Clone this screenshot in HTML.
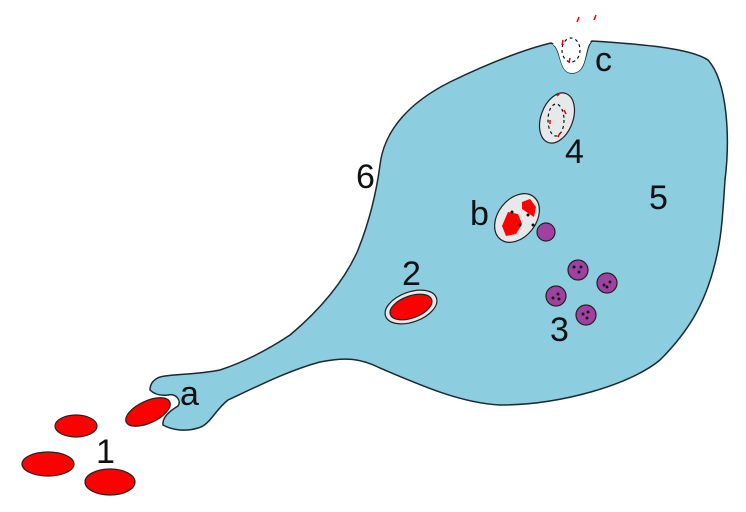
<!DOCTYPE html>
<html><head><style>body{margin:0;background:#fff}svg{display:block}text{font-family:"Liberation Sans",sans-serif;font-size:34px;fill:#111}</style></head><body>
<svg width="746" height="512" viewBox="0 0 746 512">
<path d="M380,165 C384,130 410,102 450,82 C495,60 530,48 551,43 C562,47 558,73 572,73 C588,73 584,48 592,41 C640,44 690,48 708,60 C728,82 730,140 725,180 C723,210 722,230 718,250 C708,300 690,330 660,360 C630,385 560,405 500,405 C460,403 420,385 380,368 C360,358 345,357 320,362 C290,370 260,385 228,400 C215,410 210,425 198,428 C185,432 172,430 163,425 C162,418 168,412 178,406 C182,400 175,393 168,395 C160,396 154,394 150,390 C150,382 156,377 165,376 C180,374 200,374 220,370 C250,360 275,345 290,335 C320,310 345,280 358,250 C368,225 376,195 380,165 Z" fill="#8ccde0" stroke="#1a2a30" stroke-width="1.5"/>
<g stroke="#222" stroke-width="1.2">
<ellipse cx="76" cy="426" rx="21" ry="11" fill="#f00"/>
<ellipse cx="48" cy="464" rx="26" ry="12" fill="#f00"/>
<ellipse cx="110" cy="482" rx="25" ry="13" fill="#f00"/>
<ellipse cx="148" cy="412" rx="24" ry="11" fill="#f00" transform="rotate(-25 148 412)"/>
<ellipse cx="411" cy="307" rx="27" ry="15" fill="#e6e8ea" transform="rotate(-20 411 307)"/>
<ellipse cx="411" cy="307" rx="22" ry="11" fill="#f00" transform="rotate(-20 411 307)"/>
<ellipse cx="557" cy="118" rx="16" ry="26" fill="#e6e8ea" transform="rotate(20 557 118)"/>
<circle cx="546" cy="232" r="9" fill="#a040a0"/>
<ellipse cx="517" cy="218" rx="19" ry="27" fill="#e6e8ea" transform="rotate(38 517 218)"/>
<circle cx="578" cy="270" r="10" fill="#a040a0"/>
<circle cx="607" cy="283" r="10" fill="#a040a0"/>
<circle cx="556" cy="296" r="10" fill="#a040a0"/>
<circle cx="586" cy="315" r="10" fill="#a040a0"/>
</g>
<path d="M552,44 C562,48 558,73 572,73 C588,73 584,48 591,42" fill="#fff"/>
<g fill="#f00"><path d="M502,226 l6,-14 l10,2 l4,10 l-6,10 l-10,2z"/><path d="M522,202 l8,-3 l6,8 l-2,10 l-6,-4 l-6,-4z"/></g>
<g fill="#111"><circle cx="574" cy="267" r="1.5"/><circle cx="579" cy="272" r="1.5"/><circle cx="581" cy="267" r="1.5"/><circle cx="604" cy="285" r="1.5"/><circle cx="610" cy="282" r="1.5"/><circle cx="607" cy="287" r="1.5"/><circle cx="553" cy="298" r="1.5"/><circle cx="558" cy="294" r="1.5"/><circle cx="559" cy="299" r="1.5"/><circle cx="583" cy="314" r="1.5"/><circle cx="588" cy="312" r="1.5"/><circle cx="587" cy="318" r="1.5"/><circle cx="512" cy="212" r="1.5"/><circle cx="520" cy="225" r="1.5"/><circle cx="528" cy="215" r="1.5"/><circle cx="533" cy="225" r="1.5"/></g>
<g stroke="#111" stroke-width="1.2" stroke-dasharray="3,3" fill="none"><ellipse cx="571" cy="50" rx="9" ry="12"/><ellipse cx="556" cy="120" rx="8" ry="16"/></g>
<g stroke="#e00" stroke-width="1.5"><path d="M577,22 l2,-5 M594,20 l2,-5 M563,40 l-1,5 M569,63 l1,-5 M557,96 l3,-3 M550,120 l0,4 M560,133 l-2,4 M564,110 l2,4"/></g>
<text x="96" y="463">1</text><text x="180" y="405">a</text><text x="402" y="285">2</text><text x="356" y="188">6</text><text x="470" y="225">b</text><text x="565" y="163">4</text><text x="649" y="209">5</text><text x="550" y="341">3</text><text x="595" y="71">c</text>
</svg></body></html>
